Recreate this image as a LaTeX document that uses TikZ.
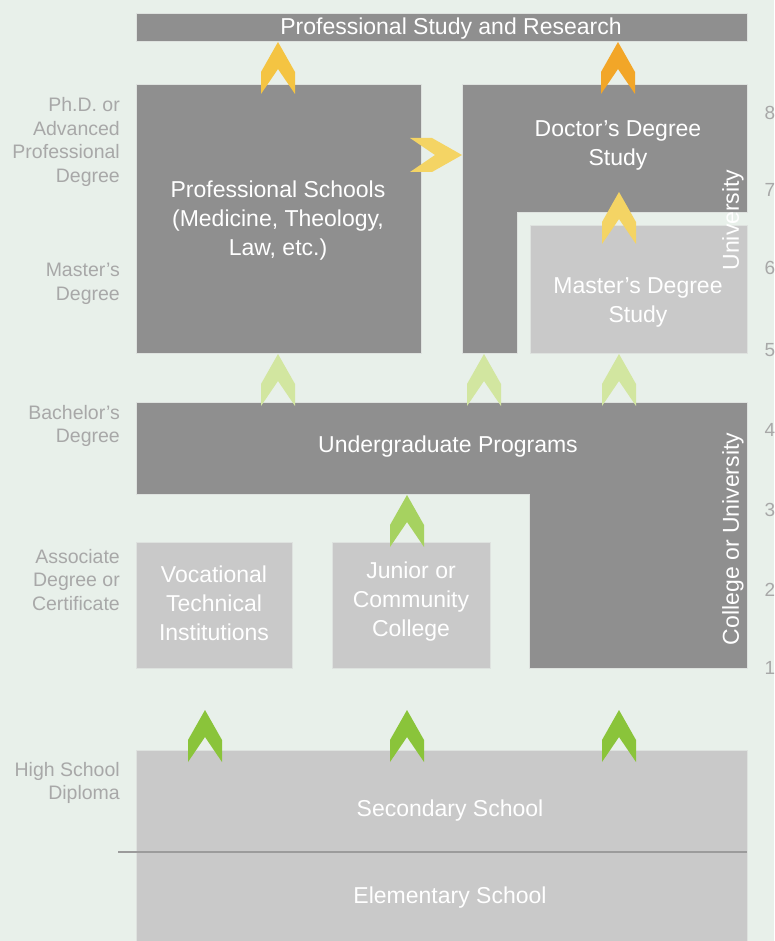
\documentclass[tikz,border=0pt]{standalone}
\usepackage{fontspec}
\setmainfont{Liberation Sans}
\definecolor{bgc}{RGB}{232,240,234}
\definecolor{darkbox}{RGB}{143,143,143}
\definecolor{lightbox}{RGB}{201,201,201}
\definecolor{boxedge}{RGB}{222,226,223}
\definecolor{labelgray}{RGB}{168,168,168}
\definecolor{gold}{RGB}{244,196,66}
\definecolor{amber}{RGB}{242,166,40}
\definecolor{paleyellow}{RGB}{244,212,100}
\definecolor{palegreen}{RGB}{210,230,160}
\definecolor{midgreen}{RGB}{166,210,96}
\definecolor{brightgreen}{RGB}{138,196,58}
\newcommand{\boxfont}{\fontsize{23}{29}\selectfont}
\newcommand{\lvlfont}{\fontsize{19.5}{23.7}\selectfont}
\tikzset{
  dbox/.style={fill=darkbox, draw=boxedge, line width=1},
  lbox/.style={fill=lightbox, draw=boxedge, line width=1},
  boxtext/.style={text=white, font=\boxfont, align=center, inner sep=0},
  lvl/.style={text=labelgray, font=\lvlfont, align=right, anchor=east, inner sep=0},
  num/.style={text=labelgray, font=\fontsize{19}{19}\selectfont, inner sep=0},
  pics/chev/.style={code={
    \fill[#1] (0,0) -- (-17,30) -- (-17,52) -- (0,27) -- (17,52) -- (17,30) -- cycle;
  }}
}
\begin{document}
\begin{tikzpicture}[x=1pt,y=-1pt]
  \fill[bgc] (0,0) rectangle (774,941);
  \useasboundingbox (0,0) rectangle (774,941);

  % top bar
  \draw[dbox] (136,14) rectangle (747,42);
  \node[boxtext] (research) at (451,29) {Professional Study and Research};

  % graduate level
  \draw[dbox] (136,85) rectangle (421,353);
  \node[boxtext] (profschools) at (278,221) {Professional Schools\\(Medicine, Theology,\\Law, etc.)};
  \draw[dbox] (462,85) -- (747,85) -- (747,213) -- (517,213) -- (517,353) -- (462,353) -- cycle;
  \node[boxtext] (doctor) at (618,145) {Doctor's Degree\\Study};
  \draw[lbox] (530,226) rectangle (747,353);
  \node[boxtext] (master) at (638,302) {Master's Degree\\Study};
  \node[boxtext, rotate=90] (univ) at (733,220) {University};

  % undergraduate level
  \draw[dbox] (136,402) -- (747,402) -- (747,668) -- (529,668) -- (529,494) -- (136,494) -- cycle;
  \node[boxtext] (undergrad) at (448,447) {Undergraduate Programs};
  \node[boxtext, rotate=90] (college) at (733,539) {College or University};
  \draw[lbox] (136,542) rectangle (292,668);
  \node[boxtext] (vocational) at (214,603) {Vocational\\Technical\\Institutions};
  \draw[lbox] (332,542) rectangle (490,668);
  \node[boxtext] (junior) at (411,602) {Junior or\\Community\\College};

  % schools
  \draw[lbox] (136,750) rectangle (747,941);
  \draw[darkbox!80!lightbox, line width=1.5] (118,852) -- (747,852);
  \node[boxtext] (secondary) at (450,811) {Secondary School};
  \node[boxtext] (elementary) at (450,898) {Elementary School};

  % degrees on the left
  \node[lvl] (phd) at (120,142) {Ph.D. or\\Advanced\\Professional\\Degree};
  \node[lvl] (masters) at (120,284) {Master's\\Degree};
  \node[lvl] (bachelors) at (120,426) {Bachelor's\\Degree};
  \node[lvl] (associate) at (120,580) {Associate\\Degree or\\Certificate};
  \node[lvl] (diploma) at (120,783) {High School\\Diploma};

  % years on the right
  \foreach \n/\y in {8/113,7/190,6/268,5/350,4/430,3/510,2/590,1/668}
    \node[num] (yr\n) at (770,\y) {\n};

  % arrows
  \pic at (278,42) {chev=gold};
  \pic at (618,42) {chev=amber};
  \pic[rotate=-90] at (462,155) {chev=paleyellow};
  \pic at (619,192) {chev=paleyellow};
  \foreach \x in {278,484,619} \pic at (\x,354) {chev=palegreen};
  \pic at (407,495) {chev=midgreen};
  \foreach \x in {205,407,619} \pic at (\x,710) {chev=brightgreen};
\end{tikzpicture}
\end{document}
